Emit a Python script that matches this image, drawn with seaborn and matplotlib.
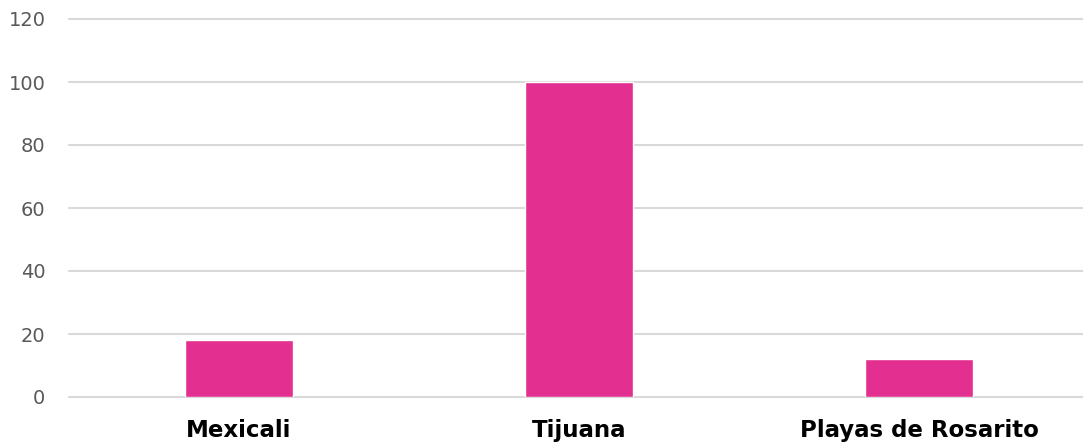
import matplotlib
matplotlib.use("Agg")
import matplotlib.pyplot as plt
import pandas as pd
import seaborn as sns

# Data
municipios = ["Mexicali", "Tijuana", "Playas de Rosarito"]
valores = [18, 100, 12]
y_ticks = [0, 20, 40, 60, 80, 100, 120]

df = pd.DataFrame({"municipio": municipios, "valor": valores})

sns.set_theme(style="white")
plt.rcParams["font.family"] = ["DejaVu Sans"]

fig = plt.figure(figsize=(10.83, 4.47), dpi=100)
ax = fig.add_axes([69 / 1083, 50 / 447, 1 - 69 / 1083, 378 / 447])

sns.barplot(data=df, x="municipio", y="valor", color="#E32F8F", width=0.315,
            saturation=1, ax=ax, zorder=3)

ax.set_ylim(0, 120)
ax.set_xlim(-0.5, -0.5 + 1014 / 340)
ax.set_yticks(y_ticks)
ax.yaxis.grid(True, color="#D9D9D9", linewidth=1.5, zorder=0)
for gl in ax.yaxis.get_gridlines():
    gl.set_clip_on(False)
ax.set_axisbelow(True)
sns.despine(ax=ax, left=True, bottom=True, top=True, right=True)

ax.tick_params(axis="y", length=0, pad=17, labelsize=14, labelcolor="#595959")
ax.tick_params(axis="x", length=0, pad=16, labelsize=16.5, labelcolor="black")
for lbl in ax.get_xticklabels():
    lbl.set_fontweight("bold")
ax.set_xlabel("")
ax.set_ylabel("")

fig.savefig("out.png", dpi=100)
